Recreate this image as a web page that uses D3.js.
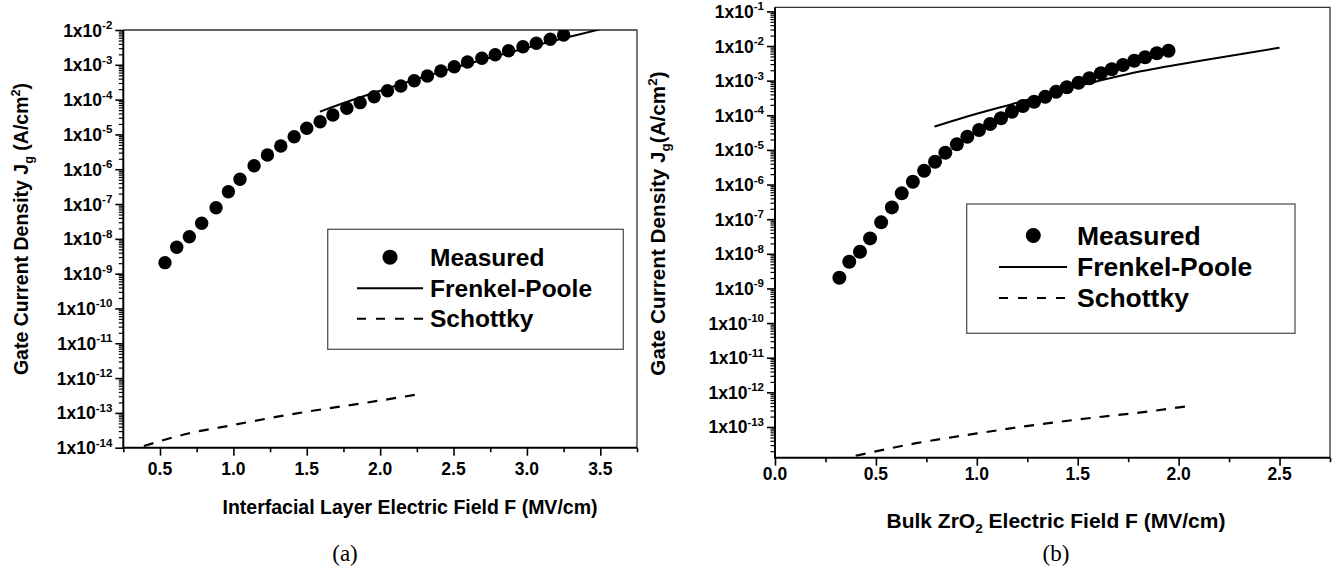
<!DOCTYPE html>
<html>
<head>
<meta charset="utf-8">
<script src="https://cdn.jsdelivr.net/npm/d3@7"></script>
<style>
  html, body { margin: 0; padding: 0; background: #fff; }
  svg { display: block; }
  text { font-family: "Liberation Sans", Arial, sans-serif; font-weight: bold; fill: #000; }
  .cap { font-family: "Liberation Serif", "Times New Roman", serif; font-weight: normal; }
</style>
</head>
<body>
<svg id="fig" width="1335" height="577"></svg>
<script>
// ---- Panel (a): interfacial layer field ----
const fieldA = [0.534, 0.614, 0.700, 0.784, 0.882, 0.966, 1.045, 1.141, 1.232, 1.323, 1.414,
  1.500, 1.591, 1.678, 1.773, 1.864, 1.959, 2.050, 2.141, 2.232, 2.322, 2.414, 2.505, 2.595,
  2.693, 2.784, 2.875, 2.973, 3.064, 3.159, 3.250];
const measuredA = [2.07e-9, 5.73e-9, 1.15e-8, 2.80e-8, 7.85e-8, 2.26e-7, 5.14e-7, 1.26e-6,
  2.56e-6, 4.66e-6, 8.61e-6, 1.50e-5, 2.32e-5, 3.61e-5, 5.64e-5, 8.17e-5, 1.21e-4, 1.80e-4,
  2.46e-4, 3.50e-4, 4.78e-4, 6.64e-4, 8.83e-4, 1.21e-3, 1.54e-3, 1.95e-3, 2.54e-3, 3.31e-3,
  4.15e-3, 5.41e-3, 7.18e-3];
const fpFieldA = [1.59, 1.8, 2.0, 2.25, 2.5, 2.75, 3.0, 3.25, 3.5];
const frenkelPooleA = [4.5e-5, 9.4e-5, 1.8e-4, 3.9e-4, 8.1e-4, 1.6e-3, 3.1e-3, 5.8e-3, 1.05e-2];
const schFieldA = [0.39, 0.7, 1.0, 1.3, 1.6, 1.9, 2.24];
const schottkyA = [1.12e-14, 2.6e-14, 4.5e-14, 7.8e-14, 1.26e-13, 1.95e-13, 3.3e-13];
const xTicksA = [0.5, 1.0, 1.5, 2.0, 2.5, 3.0, 3.5];

// ---- Panel (b): bulk ZrO2 field ----
const fieldB = [0.319, 0.368, 0.421, 0.471, 0.526, 0.579, 0.628, 0.683, 0.739, 0.793, 0.844,
  0.901, 0.953, 1.011, 1.066, 1.120, 1.174, 1.228, 1.284, 1.339, 1.393, 1.446, 1.504, 1.558,
  1.615, 1.669, 1.724, 1.780, 1.834, 1.892, 1.950];
const measuredB = [2.03e-9, 5.89e-9, 1.15e-8, 2.79e-8, 8.09e-8, 2.19e-7, 5.57e-7, 1.21e-6,
  2.51e-6, 4.56e-6, 8.30e-6, 1.45e-5, 2.40e-5, 3.75e-5, 5.60e-5, 8.17e-5, 1.27e-4, 1.85e-4,
  2.46e-4, 3.44e-4, 4.80e-4, 6.43e-4, 8.73e-4, 1.17e-3, 1.63e-3, 2.13e-3, 2.83e-3, 3.77e-3,
  4.72e-3, 6.16e-3, 7.33e-3];
const fpFieldB = [0.79, 0.92, 1.2, 1.5, 1.8, 2.1, 2.5];
const frenkelPooleB = [4.7e-5, 8.1e-5, 2.3e-4, 6.9e-4, 1.8e-3, 3.7e-3, 8.9e-3];
const schFieldB = [0.40, 0.7, 1.0, 1.3, 1.6, 1.85, 2.06];
const schottkyB = [1.48e-14, 3.4e-14, 6.5e-14, 1.17e-13, 1.92e-13, 2.8e-13, 4.1e-13];
const xTicksB = [0.0, 0.5, 1.0, 1.5, 2.0, 2.5];

const legendLabels = ["Measured", "Frenkel-Poole", "Schottky"];

const svg = d3.select("#fig");
const zip = (xs, ys) => xs.map((v, i) => [v, ys[i]]);

function drawPanel(p) {
  const g = svg.append("g");
  const x = d3.scaleLinear().domain(p.xDomain).range([p.left, p.right]);
  const y = d3.scaleLog().domain(p.yDomain).range([p.bottom, p.top]);

  const clipId = "clip-" + p.id;
  g.append("clipPath").attr("id", clipId).append("rect")
    .attr("x", p.left).attr("y", p.top)
    .attr("width", p.right - p.left).attr("height", p.bottom - p.top);

  // y axis: decade ticks plus 2..9 minor ticks
  const [lo, hi] = p.yDomain;
  const majors = [], minors = [];
  for (let e = Math.floor(Math.log10(lo)); e <= Math.ceil(Math.log10(hi)); e++) {
    for (let k = 1; k <= 9; k++) {
      const v = k * Math.pow(10, e);
      if (v < lo * 0.9999 || v > hi * 1.0001) continue;
      (k === 1 ? majors : minors).push(v);
    }
  }
  g.append("g").attr("transform", `translate(${p.left},0)`)
    .call(d3.axisLeft(y).tickValues(minors).tickSize(4.5).tickSizeOuter(0).tickFormat(""))
    .call(a => a.select(".domain").remove())
    .call(a => a.selectAll("line").attr("stroke", "#000").attr("stroke-width", 1.2));
  g.append("g").attr("transform", `translate(${p.left},0)`)
    .call(d3.axisLeft(y).tickValues(majors).tickSize(8).tickSizeOuter(0).tickFormat(""))
    .call(a => a.select(".domain").remove())
    .call(a => a.selectAll("line").attr("stroke", "#000").attr("stroke-width", 1.6));

  g.selectAll(".ylab").data(majors).join("text")
    .attr("class", "ylab")
    .attr("x", p.left - 11).attr("y", d => y(d) + 6.5)
    .attr("text-anchor", "end").attr("font-size", 17.5)
    .each(function (d) {
      const t = d3.select(this);
      t.append("tspan").text("1x10");
      t.append("tspan").attr("dy", -7.5).attr("font-size", 11.5)
        .text(String(Math.round(Math.log10(d))));
    });

  // x axis: major ticks every 0.5, minor at the quarter points
  const xMinor = d3.range(Math.ceil(p.xDomain[0] / 0.25), Math.floor(p.xDomain[1] / 0.25 + 1e-9) + 1)
    .map(i => i * 0.25).filter(v => Math.abs(v / 0.5 - Math.round(v / 0.5)) > 1e-6);
  g.append("g").attr("transform", `translate(0,${p.bottom})`)
    .call(d3.axisBottom(x).tickValues(xMinor).tickSize(4.5).tickSizeOuter(0).tickFormat(""))
    .call(a => a.select(".domain").remove())
    .call(a => a.selectAll("line").attr("stroke", "#000").attr("stroke-width", 1.6));
  g.append("g").attr("transform", `translate(0,${p.bottom})`)
    .call(d3.axisBottom(x).tickValues(p.xTicks).tickSize(8).tickSizeOuter(0).tickFormat(""))
    .call(a => a.select(".domain").remove())
    .call(a => a.selectAll("line").attr("stroke", "#000").attr("stroke-width", 1.6));
  g.selectAll(".xlab").data(p.xTicks).join("text")
    .attr("class", "xlab")
    .attr("x", d => x(d)).attr("y", p.bottom + p.xLabOffset)
    .attr("text-anchor", "middle").attr("font-size", 17.5)
    .text(d3.format(".1f"));

  // frame: heavy left/bottom axes, lighter top/right borders
  g.append("path").attr("fill", "none").attr("stroke", "#333").attr("stroke-width", 1.3)
    .attr("d", `M${p.left},${p.top}H${p.right}V${p.bottom}`);
  g.append("path").attr("fill", "none").attr("stroke", "#000").attr("stroke-width", 2)
    .attr("d", `M${p.left},${p.top}V${p.bottom}H${p.right}`);

  // model curves
  const line = d3.line().x(d => x(d[0])).y(d => y(d[1])).curve(d3.curveMonotoneX);
  const plot = g.append("g").attr("clip-path", `url(#${clipId})`);
  plot.append("path").attr("fill", "none").attr("stroke", "#000").attr("stroke-width", 2)
    .attr("d", line(zip(p.fpField, p.fp)));
  plot.append("path").attr("fill", "none").attr("stroke", "#000").attr("stroke-width", 2.2)
    .attr("stroke-dasharray", "10,9")
    .attr("d", line(zip(p.schField, p.sch)));

  // measured points
  plot.selectAll("circle").data(zip(p.field, p.measured)).join("circle")
    .attr("cx", d => x(d[0])).attr("cy", d => y(d[1])).attr("r", p.r).attr("fill", "#000");

  // axis titles
  const xt = g.append("text").attr("x", p.xTitleX).attr("y", p.xTitleY)
    .attr("text-anchor", "middle").attr("font-size", p.titleSize);
  p.xTitle(xt);
  const yt = g.append("text")
    .attr("transform", `translate(${p.yTitleX},${p.yTitleY}) rotate(-90)`)
    .attr("text-anchor", "middle").attr("font-size", p.yTitleSize);
  yt.append("tspan").text("Gate Current Density J");
  yt.append("tspan").attr("dy", 5).attr("font-size", p.yTitleSize * 0.65).text("g");
  yt.append("tspan").attr("dy", -5).text(p.ySpace ? " (A/cm" : "(A/cm");
  yt.append("tspan").attr("dy", -8).attr("font-size", p.yTitleSize * 0.65).text("2");
  yt.append("tspan").attr("dy", 8).text(")");

  // legend
  const L = p.legend;
  g.append("rect").attr("x", L.x).attr("y", L.y).attr("width", L.w).attr("height", L.h)
    .attr("fill", "#fff").attr("stroke", "#555").attr("stroke-width", 1.3);
  g.append("circle").attr("cx", L.symX).attr("cy", L.rows[0] - L.fs * 0.34).attr("r", 7.5).attr("fill", "#000");
  g.append("line").attr("x1", L.lineX0).attr("x2", L.lineX1)
    .attr("y1", L.rows[1] - L.fs * 0.34).attr("y2", L.rows[1] - L.fs * 0.34)
    .attr("stroke", "#000").attr("stroke-width", 2);
  g.append("line").attr("x1", L.lineX0).attr("x2", L.lineX1)
    .attr("y1", L.rows[2] - L.fs * 0.34).attr("y2", L.rows[2] - L.fs * 0.34)
    .attr("stroke", "#000").attr("stroke-width", 2).attr("stroke-dasharray", "9,10");
  g.selectAll(".leg").data(legendLabels).join("text")
    .attr("class", "leg")
    .attr("x", L.textX).attr("y", (d, i) => L.rows[i])
    .attr("font-size", L.fs).text(d => d);

  // panel caption
  g.append("text").attr("class", "cap").attr("x", p.capX).attr("y", 561)
    .attr("text-anchor", "middle").attr("font-size", 23).text(p.caption);
}

drawPanel({
  id: "a", caption: "(a)", capX: 345,
  left: 123.3, right: 637, top: 30, bottom: 447.7,
  xDomain: [0.25, 3.75], yDomain: [1e-14, 1e-2], xTicks: xTicksA, xLabOffset: 27.5,
  field: fieldA, measured: measuredA, fpField: fpFieldA, fp: frenkelPooleA,
  schField: schFieldA, sch: schottkyA, r: 6.7,
  titleSize: 19.5, xTitleX: 410, xTitleY: 514,
  xTitle: t => t.text("Interfacial Layer Electric Field F (MV/cm)"),
  yTitleSize: 19.5, yTitleX: 28, yTitleY: 229, ySpace: true,
  legend: { x: 327.7, y: 229.3, w: 295.6, h: 120, fs: 24.5, rows: [265.5, 296.5, 327],
            symX: 390, lineX0: 357, lineX1: 423, textX: 430 }
});

drawPanel({
  id: "b", caption: "(b)", capX: 1056,
  left: 775, right: 1330, top: 7.3, bottom: 457.7,
  xDomain: [0, 2.75], yDomain: [1.297e-14, 0.1312], xTicks: xTicksB, xLabOffset: 22.5,
  field: fieldB, measured: measuredB, fpField: fpFieldB, fp: frenkelPooleB,
  schField: schFieldB, sch: schottkyB, r: 7,
  titleSize: 21, xTitleX: 1056, xTitleY: 528,
  xTitle: t => {
    t.append("tspan").text("Bulk ZrO");
    t.append("tspan").attr("dy", 5).attr("font-size", 13.5).text("2");
    t.append("tspan").attr("dy", -5).text(" Electric Field F (MV/cm)");
  },
  yTitleSize: 20.7, yTitleX: 665, yTitleY: 223.5, ySpace: false,
  legend: { x: 966.7, y: 204, w: 328.3, h: 129.3, fs: 26.5, rows: [244.5, 276, 307],
            symX: 1033.3, lineX0: 999, lineX1: 1067, textX: 1077 }
});
</script>
</body>
</html>
